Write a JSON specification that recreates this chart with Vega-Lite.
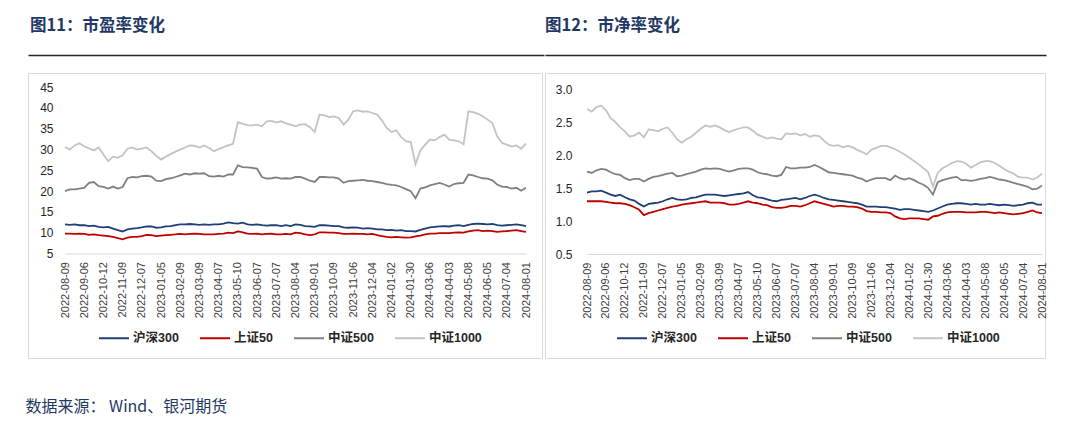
{
"$schema": "https://vega.github.io/schema/vega-lite/v6.json",
"background": "white",
"padding": {"left": 25, "top": 17, "right": 0, "bottom": 0},
"autosize": {"type": "pad"},
"datasets": {"v": [
{"d":"2022-08-09","h":12.0,"s":9.8,"m":20.0,"t":30.6,"ph":1.43,"ps":1.30,"pm":1.75,"pt":2.70},
{"d":"2022-08-16","h":11.9,"s":9.8,"m":20.4,"t":30.0,"ph":1.45,"ps":1.30,"pm":1.73,"pt":2.66},
{"d":"2022-08-23","h":12.0,"s":9.7,"m":20.4,"t":31.0,"ph":1.45,"ps":1.30,"pm":1.77,"pt":2.73},
{"d":"2022-08-30","h":11.8,"s":9.8,"m":20.6,"t":31.5,"ph":1.46,"ps":1.30,"pm":1.79,"pt":2.75},
{"d":"2022-09-06","h":11.8,"s":9.7,"m":20.8,"t":30.8,"ph":1.43,"ps":1.29,"pm":1.78,"pt":2.68},
{"d":"2022-09-14","h":11.6,"s":9.5,"m":22.0,"t":30.3,"ph":1.40,"ps":1.28,"pm":1.74,"pt":2.56},
{"d":"2022-09-21","h":11.7,"s":9.6,"m":22.2,"t":29.8,"ph":1.38,"ps":1.27,"pm":1.71,"pt":2.50},
{"d":"2022-09-28","h":11.4,"s":9.4,"m":21.2,"t":30.5,"ph":1.40,"ps":1.27,"pm":1.70,"pt":2.42},
{"d":"2022-10-12","h":11.3,"s":9.3,"m":21.0,"t":28.8,"ph":1.36,"ps":1.26,"pm":1.65,"pt":2.36},
{"d":"2022-10-19","h":11.4,"s":9.2,"m":20.6,"t":27.2,"ph":1.33,"ps":1.24,"pm":1.62,"pt":2.28},
{"d":"2022-10-26","h":11.0,"s":9.0,"m":21.1,"t":28.3,"ph":1.31,"ps":1.21,"pm":1.64,"pt":2.30},
{"d":"2022-11-02","h":10.6,"s":8.7,"m":20.6,"t":28.0,"ph":1.26,"ps":1.17,"pm":1.64,"pt":2.34},
{"d":"2022-11-09","h":10.3,"s":8.4,"m":21.0,"t":28.6,"ph":1.22,"ps":1.09,"pm":1.60,"pt":2.27},
{"d":"2022-11-16","h":10.8,"s":8.8,"m":23.1,"t":30.2,"ph":1.26,"ps":1.12,"pm":1.64,"pt":2.39},
{"d":"2022-11-23","h":11.0,"s":9.0,"m":23.4,"t":30.5,"ph":1.27,"ps":1.14,"pm":1.67,"pt":2.38},
{"d":"2022-11-30","h":11.1,"s":9.0,"m":23.3,"t":30.0,"ph":1.28,"ps":1.16,"pm":1.68,"pt":2.36},
{"d":"2022-12-07","h":11.3,"s":9.2,"m":23.6,"t":30.2,"ph":1.30,"ps":1.18,"pm":1.70,"pt":2.40},
{"d":"2022-12-14","h":11.5,"s":9.5,"m":23.7,"t":30.5,"ph":1.33,"ps":1.20,"pm":1.72,"pt":2.42},
{"d":"2022-12-21","h":11.5,"s":9.4,"m":23.5,"t":29.6,"ph":1.35,"ps":1.22,"pm":1.73,"pt":2.34},
{"d":"2022-12-28","h":11.2,"s":9.2,"m":22.5,"t":28.5,"ph":1.33,"ps":1.23,"pm":1.68,"pt":2.24},
{"d":"2023-01-05","h":11.3,"s":9.3,"m":22.4,"t":27.6,"ph":1.32,"ps":1.25,"pm":1.69,"pt":2.19},
{"d":"2023-01-12","h":11.5,"s":9.4,"m":22.9,"t":28.3,"ph":1.33,"ps":1.26,"pm":1.71,"pt":2.24},
{"d":"2023-01-19","h":11.6,"s":9.5,"m":23.1,"t":28.9,"ph":1.35,"ps":1.27,"pm":1.73,"pt":2.28},
{"d":"2023-02-02","h":11.8,"s":9.6,"m":23.4,"t":29.5,"ph":1.36,"ps":1.28,"pm":1.75,"pt":2.34},
{"d":"2023-02-09","h":12.0,"s":9.7,"m":23.8,"t":30.0,"ph":1.38,"ps":1.29,"pm":1.78,"pt":2.40},
{"d":"2023-02-16","h":12.0,"s":9.6,"m":24.2,"t":30.5,"ph":1.40,"ps":1.30,"pm":1.80,"pt":2.45},
{"d":"2023-02-23","h":12.1,"s":9.7,"m":24.0,"t":31.0,"ph":1.40,"ps":1.28,"pm":1.79,"pt":2.43},
{"d":"2023-03-02","h":12.0,"s":9.8,"m":24.3,"t":30.9,"ph":1.40,"ps":1.28,"pm":1.80,"pt":2.45},
{"d":"2023-03-09","h":11.9,"s":9.7,"m":24.2,"t":30.5,"ph":1.39,"ps":1.28,"pm":1.79,"pt":2.42},
{"d":"2023-03-16","h":12.0,"s":9.6,"m":24.3,"t":31.0,"ph":1.38,"ps":1.27,"pm":1.77,"pt":2.38},
{"d":"2023-03-23","h":11.9,"s":9.6,"m":23.6,"t":30.4,"ph":1.39,"ps":1.25,"pm":1.75,"pt":2.35},
{"d":"2023-03-30","h":12.0,"s":9.6,"m":23.5,"t":29.6,"ph":1.40,"ps":1.25,"pm":1.77,"pt":2.38},
{"d":"2023-04-07","h":12.0,"s":9.7,"m":23.7,"t":30.1,"ph":1.41,"ps":1.26,"pm":1.79,"pt":2.40},
{"d":"2023-04-14","h":12.2,"s":9.8,"m":23.5,"t":30.6,"ph":1.42,"ps":1.28,"pm":1.80,"pt":2.42},
{"d":"2023-04-21","h":12.5,"s":10.0,"m":24.0,"t":31.0,"ph":1.44,"ps":1.30,"pm":1.80,"pt":2.42},
{"d":"2023-04-28","h":12.3,"s":9.9,"m":24.0,"t":31.4,"ph":1.39,"ps":1.28,"pm":1.78,"pt":2.37},
{"d":"2023-05-10","h":12.2,"s":10.3,"m":26.2,"t":36.6,"ph":1.36,"ps":1.27,"pm":1.74,"pt":2.31},
{"d":"2023-05-17","h":12.4,"s":10.1,"m":25.8,"t":36.2,"ph":1.35,"ps":1.25,"pm":1.72,"pt":2.28},
{"d":"2023-05-24","h":12.0,"s":9.8,"m":25.7,"t":35.9,"ph":1.33,"ps":1.24,"pm":1.71,"pt":2.25},
{"d":"2023-05-31","h":11.9,"s":9.7,"m":25.6,"t":35.8,"ph":1.31,"ps":1.21,"pm":1.69,"pt":2.27},
{"d":"2023-06-07","h":12.0,"s":9.8,"m":25.4,"t":36.0,"ph":1.30,"ps":1.20,"pm":1.68,"pt":2.25},
{"d":"2023-06-14","h":11.8,"s":9.6,"m":23.4,"t":35.6,"ph":1.32,"ps":1.20,"pm":1.70,"pt":2.24},
{"d":"2023-06-21","h":11.7,"s":9.7,"m":23.0,"t":36.8,"ph":1.33,"ps":1.21,"pm":1.82,"pt":2.33},
{"d":"2023-06-30","h":11.8,"s":9.8,"m":23.1,"t":36.9,"ph":1.34,"ps":1.23,"pm":1.80,"pt":2.32},
{"d":"2023-07-07","h":11.8,"s":9.6,"m":23.3,"t":36.5,"ph":1.35,"ps":1.23,"pm":1.80,"pt":2.33},
{"d":"2023-07-14","h":11.6,"s":9.6,"m":23.0,"t":36.8,"ph":1.33,"ps":1.22,"pm":1.81,"pt":2.30},
{"d":"2023-07-21","h":11.8,"s":9.7,"m":23.1,"t":36.3,"ph":1.35,"ps":1.24,"pm":1.81,"pt":2.32},
{"d":"2023-07-28","h":11.6,"s":9.6,"m":23.0,"t":36.0,"ph":1.38,"ps":1.27,"pm":1.82,"pt":2.28},
{"d":"2023-08-04","h":12.0,"s":10.0,"m":23.4,"t":35.6,"ph":1.40,"ps":1.30,"pm":1.85,"pt":2.30},
{"d":"2023-08-11","h":11.9,"s":9.9,"m":23.4,"t":36.0,"ph":1.38,"ps":1.28,"pm":1.82,"pt":2.29},
{"d":"2023-08-18","h":11.6,"s":9.6,"m":23.0,"t":36.1,"ph":1.35,"ps":1.26,"pm":1.78,"pt":2.22},
{"d":"2023-08-25","h":11.5,"s":9.4,"m":22.5,"t":35.4,"ph":1.33,"ps":1.24,"pm":1.74,"pt":2.16},
{"d":"2023-09-01","h":11.4,"s":9.6,"m":22.2,"t":34.2,"ph":1.32,"ps":1.22,"pm":1.73,"pt":2.14},
{"d":"2023-09-08","h":11.8,"s":10.1,"m":23.4,"t":38.4,"ph":1.31,"ps":1.23,"pm":1.72,"pt":2.15},
{"d":"2023-09-15","h":11.8,"s":10.1,"m":23.4,"t":38.2,"ph":1.30,"ps":1.23,"pm":1.71,"pt":2.12},
{"d":"2023-09-22","h":11.7,"s":10.0,"m":23.3,"t":37.8,"ph":1.29,"ps":1.22,"pm":1.70,"pt":2.14},
{"d":"2023-10-09","h":11.6,"s":10.0,"m":23.3,"t":38.0,"ph":1.28,"ps":1.22,"pm":1.69,"pt":2.12},
{"d":"2023-10-16","h":11.6,"s":9.9,"m":23.0,"t":37.6,"ph":1.27,"ps":1.21,"pm":1.66,"pt":2.08},
{"d":"2023-10-23","h":11.3,"s":9.7,"m":22.0,"t":36.0,"ph":1.25,"ps":1.19,"pm":1.64,"pt":2.05},
{"d":"2023-10-30","h":11.2,"s":9.7,"m":22.4,"t":37.2,"ph":1.22,"ps":1.15,"pm":1.60,"pt":2.01},
{"d":"2023-11-06","h":11.3,"s":9.8,"m":22.5,"t":39.2,"ph":1.22,"ps":1.14,"pm":1.63,"pt":2.08},
{"d":"2023-11-13","h":11.2,"s":9.7,"m":22.6,"t":39.4,"ph":1.22,"ps":1.14,"pm":1.65,"pt":2.11},
{"d":"2023-11-20","h":11.0,"s":9.7,"m":22.7,"t":39.1,"ph":1.21,"ps":1.13,"pm":1.65,"pt":2.14},
{"d":"2023-11-27","h":11.1,"s":9.6,"m":22.5,"t":39.2,"ph":1.21,"ps":1.13,"pm":1.65,"pt":2.14},
{"d":"2023-12-04","h":11.0,"s":9.7,"m":22.4,"t":38.8,"ph":1.20,"ps":1.12,"pm":1.62,"pt":2.12},
{"d":"2023-12-11","h":10.8,"s":9.4,"m":22.2,"t":38.4,"ph":1.19,"ps":1.07,"pm":1.69,"pt":2.09},
{"d":"2023-12-18","h":10.8,"s":9.2,"m":22.0,"t":37.0,"ph":1.17,"ps":1.04,"pm":1.65,"pt":2.05},
{"d":"2023-12-25","h":10.6,"s":9.0,"m":21.7,"t":35.2,"ph":1.18,"ps":1.03,"pm":1.63,"pt":2.01},
{"d":"2024-01-02","h":10.7,"s":8.9,"m":21.5,"t":34.2,"ph":1.18,"ps":1.04,"pm":1.65,"pt":1.96},
{"d":"2024-01-09","h":10.5,"s":9.0,"m":21.4,"t":34.6,"ph":1.17,"ps":1.04,"pm":1.62,"pt":1.91},
{"d":"2024-01-16","h":10.6,"s":8.9,"m":21.0,"t":33.0,"ph":1.16,"ps":1.04,"pm":1.58,"pt":1.86},
{"d":"2024-01-23","h":10.4,"s":8.8,"m":20.5,"t":32.0,"ph":1.15,"ps":1.03,"pm":1.55,"pt":1.80},
{"d":"2024-01-30","h":10.4,"s":8.9,"m":20.0,"t":31.8,"ph":1.14,"ps":1.02,"pm":1.50,"pt":1.74},
{"d":"2024-02-06","h":10.3,"s":9.1,"m":18.3,"t":26.5,"ph":1.16,"ps":1.07,"pm":1.40,"pt":1.52},
{"d":"2024-02-20","h":10.7,"s":9.3,"m":20.6,"t":29.8,"ph":1.19,"ps":1.08,"pm":1.59,"pt":1.73},
{"d":"2024-02-27","h":11.0,"s":9.6,"m":20.9,"t":31.2,"ph":1.22,"ps":1.11,"pm":1.62,"pt":1.80},
{"d":"2024-03-06","h":11.3,"s":9.8,"m":21.4,"t":32.4,"ph":1.25,"ps":1.13,"pm":1.64,"pt":1.84},
{"d":"2024-03-13","h":11.4,"s":9.8,"m":21.7,"t":32.2,"ph":1.26,"ps":1.14,"pm":1.66,"pt":1.88},
{"d":"2024-03-20","h":11.5,"s":9.9,"m":22.0,"t":33.0,"ph":1.27,"ps":1.14,"pm":1.67,"pt":1.91},
{"d":"2024-03-27","h":11.6,"s":9.9,"m":21.6,"t":33.6,"ph":1.27,"ps":1.14,"pm":1.62,"pt":1.90},
{"d":"2024-04-03","h":11.5,"s":9.9,"m":21.1,"t":32.4,"ph":1.26,"ps":1.13,"pm":1.62,"pt":1.87},
{"d":"2024-04-11","h":11.7,"s":10.0,"m":21.7,"t":32.2,"ph":1.25,"ps":1.13,"pm":1.61,"pt":1.81},
{"d":"2024-04-18","h":11.8,"s":10.1,"m":21.9,"t":32.0,"ph":1.26,"ps":1.13,"pm":1.62,"pt":1.85},
{"d":"2024-04-25","h":11.6,"s":10.0,"m":22.0,"t":31.3,"ph":1.25,"ps":1.14,"pm":1.64,"pt":1.89},
{"d":"2024-05-08","h":11.9,"s":10.3,"m":24.0,"t":39.2,"ph":1.25,"ps":1.14,"pm":1.65,"pt":1.91},
{"d":"2024-05-15","h":12.1,"s":10.5,"m":23.8,"t":39.0,"ph":1.26,"ps":1.13,"pm":1.67,"pt":1.91},
{"d":"2024-05-22","h":12.2,"s":10.6,"m":23.4,"t":38.6,"ph":1.25,"ps":1.12,"pm":1.65,"pt":1.88},
{"d":"2024-05-29","h":12.1,"s":10.4,"m":23.1,"t":38.0,"ph":1.24,"ps":1.13,"pm":1.63,"pt":1.84},
{"d":"2024-06-05","h":12.0,"s":10.5,"m":23.0,"t":37.2,"ph":1.25,"ps":1.12,"pm":1.62,"pt":1.79},
{"d":"2024-06-13","h":12.1,"s":10.4,"m":22.6,"t":36.4,"ph":1.24,"ps":1.11,"pm":1.60,"pt":1.75},
{"d":"2024-06-20","h":11.8,"s":10.2,"m":21.6,"t":33.2,"ph":1.23,"ps":1.10,"pm":1.58,"pt":1.72},
{"d":"2024-06-27","h":11.7,"s":10.3,"m":21.1,"t":31.6,"ph":1.24,"ps":1.11,"pm":1.56,"pt":1.67},
{"d":"2024-07-04","h":11.8,"s":10.4,"m":21.0,"t":31.2,"ph":1.25,"ps":1.12,"pm":1.54,"pt":1.66},
{"d":"2024-07-11","h":11.9,"s":10.5,"m":20.6,"t":30.7,"ph":1.27,"ps":1.14,"pm":1.52,"pt":1.66},
{"d":"2024-07-18","h":12.0,"s":10.6,"m":20.8,"t":31.0,"ph":1.28,"ps":1.16,"pm":1.48,"pt":1.63},
{"d":"2024-07-25","h":11.8,"s":10.4,"m":20.1,"t":30.2,"ph":1.25,"ps":1.13,"pm":1.49,"pt":1.66},
{"d":"2024-08-01","h":11.6,"s":10.2,"m":20.8,"t":31.4,"ph":1.25,"ps":1.12,"pm":1.54,"pt":1.72}
]},
"title": {"text": "数据来源：  Wind、银河期货", "orient": "bottom", "anchor": "start", "offset": 40, "dx": -2, "font": "Noto Sans CJK SC", "fontSize": 16, "fontWeight": "normal", "color": "#1f3864"},
"spacing": 0,
"resolve": {"scale": {"color": "independent"}, "legend": {"color": "independent"}},
"hconcat": [
{
"spacing": 17,
"vconcat": [
{
"width": 516, "height": 10,
"view": {"stroke": null},
"title": {"text": "图11：市盈率变化", "anchor": "start", "frame": "group", "offset": 10, "dx": 2, "font": "Noto Sans CJK SC", "fontSize": 16.5, "fontWeight": "bold", "color": "#1f3864"},
"data": {"values": [{"p": 0}]},
"mark": {"type": "text", "text": ""},
"encoding": {"x": {"field": "p", "type": "quantitative", "scale": {"domain": [0, 1]}, "axis": {"orient": "bottom", "domain": true, "domainColor": "#262626", "domainWidth": 1.3, "ticks": false, "labels": false, "grid": false, "title": null}}}
},
{
"width": 514, "height": 285,
"view": {"stroke": "#d9d9d9", "strokeWidth": 1},
"data": {"name": "v"},
"transform": [{"fold": ["h", "s", "m", "t"], "as": ["k", "val"]}],
"mark": {"type": "line", "strokeWidth": 1.8},
"encoding": {
"x": {"field": "d", "type": "ordinal", "scale": {"type": "point", "range": [37, 498], "padding": 0},
"axis": {"values": ["2022-08-09","2022-09-06","2022-10-12","2022-11-09","2022-12-07","2023-01-05","2023-02-09","2023-03-09","2023-04-07","2023-05-10","2023-06-07","2023-07-07","2023-08-04","2023-09-01","2023-10-09","2023-11-06","2023-12-04","2024-01-02","2024-01-30","2024-03-06","2024-04-03","2024-05-08","2024-06-05","2024-07-04","2024-08-01"],
"orient": "bottom", "offset": -104.5, "domain": true, "domainColor": "#d9d9d9", "domainWidth": 1, "ticks": false, "tickSize": 0, "grid": false, "labelAngle": -90, "labelPadding": 8, "labelFont": "Liberation Sans", "labelFontSize": 11, "labelColor": "#404040", "labelOverlap": false, "title": null}},
"y": {"field": "val", "type": "quantitative", "scale": {"domain": [5, 45], "range": [180.5, 14.2], "nice": false, "zero": false},
"axis": {"values": [5,10,15,20,25,30,35,40,45], "domain": false, "ticks": false, "tickSize": 0, "grid": false, "offset": -30, "labelPadding": 5, "labelFont": "Liberation Sans", "labelFontSize": 12, "labelColor": "#262626", "title": null}},
"color": {"field": "k", "type": "nominal", "scale": {"domain": ["h", "s", "m", "t"], "range": ["#203f73", "#c00000", "#808080", "#c3c3c3"]},
"legend": {"orient": "none", "legendX": 70, "legendY": 277, "direction": "horizontal", "title": null, "symbolType": "stroke", "symbolSize": 900, "symbolStrokeWidth": 2, "labelFont": "Liberation Sans, Noto Sans CJK SC", "labelFontSize": 12.5, "labelFontWeight": "bold", "labelColor": "#262626", "columnPadding": 17, "labelOffset": 3,
"labelExpr": "datum.label == 'h' ? '沪深300' : datum.label == 's' ? '上证50' : datum.label == 'm' ? '中证500' : '中证1000'"}}
}
}
]
},
{
"spacing": 17,
"vconcat": [
{
"width": 501, "height": 10,
"view": {"stroke": null},
"title": {"text": "图12：市净率变化", "anchor": "start", "frame": "group", "offset": 10, "dx": 0, "font": "Noto Sans CJK SC", "fontSize": 16.5, "fontWeight": "bold", "color": "#1f3864"},
"data": {"values": [{"p": 0}]},
"mark": {"type": "text", "text": ""},
"encoding": {"x": {"field": "p", "type": "quantitative", "scale": {"domain": [0, 1]}, "axis": {"orient": "bottom", "domain": true, "domainColor": "#262626", "domainWidth": 1.3, "ticks": false, "labels": false, "grid": false, "title": null}}}
},
{
"width": 500, "height": 285,
"view": {"stroke": "#d9d9d9", "strokeWidth": 1},
"data": {"name": "v"},
"transform": [{"fold": ["ph", "ps", "pm", "pt"], "as": ["k", "val"]}],
"mark": {"type": "line", "strokeWidth": 1.8},
"encoding": {
"x": {"field": "d", "type": "ordinal", "scale": {"type": "point", "range": [42, 497], "padding": 0},
"axis": {"values": ["2022-08-09","2022-09-06","2022-10-12","2022-11-09","2022-12-07","2023-01-05","2023-02-09","2023-03-09","2023-04-07","2023-05-10","2023-06-07","2023-07-07","2023-08-04","2023-09-01","2023-10-09","2023-11-06","2023-12-04","2024-01-02","2024-01-30","2024-03-06","2024-04-03","2024-05-08","2024-06-05","2024-07-04","2024-08-01"],
"orient": "bottom", "offset": -104, "domain": true, "domainColor": "#d9d9d9", "domainWidth": 1, "ticks": false, "tickSize": 0, "grid": false, "labelAngle": -90, "labelPadding": 8, "labelFont": "Liberation Sans", "labelFontSize": 11, "labelColor": "#404040", "labelOverlap": false, "title": null}},
"y": {"field": "val", "type": "quantitative", "scale": {"domain": [0.5, 3.0], "range": [181, 16.2], "nice": false, "zero": false},
"axis": {"values": [0.5,1.0,1.5,2.0,2.5,3.0], "format": ".1f", "domain": false, "ticks": false, "tickSize": 0, "grid": false, "offset": -32, "labelPadding": 5, "labelFont": "Liberation Sans", "labelFontSize": 12, "labelColor": "#262626", "title": null}},
"color": {"field": "k", "type": "nominal", "scale": {"domain": ["ph", "ps", "pm", "pt"], "range": ["#203f73", "#c00000", "#808080", "#c3c3c3"]},
"legend": {"orient": "none", "legendX": 71, "legendY": 277, "direction": "horizontal", "title": null, "symbolType": "stroke", "symbolSize": 900, "symbolStrokeWidth": 2, "labelFont": "Liberation Sans, Noto Sans CJK SC", "labelFontSize": 12.5, "labelFontWeight": "bold", "labelColor": "#262626", "columnPadding": 17, "labelOffset": 3,
"labelExpr": "datum.label == 'ph' ? '沪深300' : datum.label == 'ps' ? '上证50' : datum.label == 'pm' ? '中证500' : '中证1000'"}}
}
}
]
}
]
}
